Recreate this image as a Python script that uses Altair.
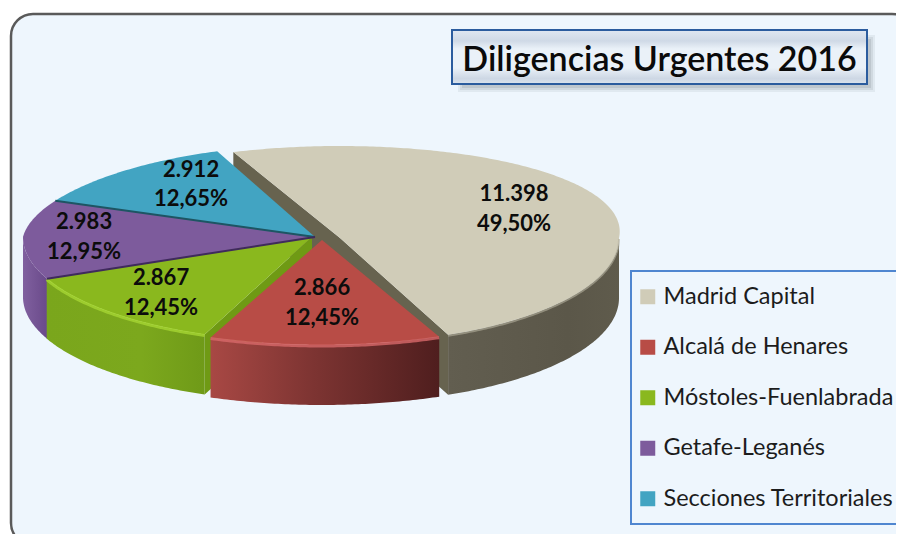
import math
import altair as alt
import pandas as pd

# ---------- data ----------
names = ["Madrid Capital", "Alcalá de Henares", "Móstoles-Fuenlabrada", "Getafe-Leganés", "Secciones Territoriales"]
values = [11398, 2866, 2867, 2983, 2912]
value_labels = ["11.398", "2.866", "2.867", "2.983", "2.912"]
pct_labels = ["49,50%", "12,45%", "12,45%", "12,95%", "12,65%"]
top_colors = ["#d0ccb8", "#b84c46", "#8ab81e", "#7d5b9c", "#42a4c2"]

# ---------- layout (page pixels minus the 8px margin) ----------
M = 8
W, H = 888, 526
DEPTH = 60
RY_BACK, RY_FRONT = 92, 105
# cx, cy, rx, back-shrink per slice
geom = [(340, 238, 279, -20), (322, 240, 300, 0), (312, 237, 289, 0), (315, 237, 292, 24), (315, 237, 292, 24)]
starts = [-111.0, 67.0, 67.0 + 44.8, 67.0 + 89.6, 67.0 + 136.2]
label_pos = [(514, 194, 224), (322, 288, 318), (161, 278, 308), (84, 222, 252), (191, 170, 199)]

total = sum(values)
spans = [v / total * 360 for v in values]


def pt(i, deg, shift=0.0):
    cx, cy, rx, shrink = geom[i]
    t = math.radians(deg)
    s, c = math.sin(t), math.cos(t)
    ry = RY_FRONT if s >= 0 else RY_BACK
    r = rx - (shrink * abs(s) if s < 0 else 0)
    return [cx + r * c - M, cy + ry * s - M + shift]


def apex(i, shift=0.0):
    cx, cy, _, _ = geom[i]
    return [cx - M, cy - M + shift]


def arc(i, a, b, shift=0.0):
    n = max(2, int(abs(b - a) * 1.5))
    return [pt(i, a + (b - a) * k / n, shift) for k in range(n + 1)]


def poly(name, ring):
    return {"type": "Feature", "properties": {"name": name},
            "geometry": {"type": "Polygon", "coordinates": [ring + [ring[0]]]}}


def line(name, coords):
    return {"type": "Feature", "properties": {"name": name},
            "geometry": {"type": "LineString", "coordinates": coords}}


def geo(features):
    return alt.InlineData(values={"type": "FeatureCollection", "features": features},
                          format=alt.DataFormat(property="features", type="json"))


def project(ch):
    return ch.project(type="identity", scale=1, translate=[0, 0])


def grad(stops, x2=1, y2=0):
    return {"gradient": "linear", "x1": 0, "y1": 0, "x2": x2, "y2": y2,
            "stops": [{"offset": o, "color": c} for o, c in stops]}


def rect(x0, y0, x1, y1, **kw):
    return alt.Chart(pd.DataFrame({"a": [0]})).mark_rect(**kw).encode(
        x=alt.value(x0 - M), x2=alt.value(x1 - M), y=alt.value(y0 - M), y2=alt.value(y1 - M))


layers = []

# panel
layers.append(rect(11, 14, 914, 545, fill="#eef6fd", stroke="#5a5a5a", strokeWidth=2.5, cornerRadius=22))

# title box
for inset, op in [(0, 0.10), (2, 0.14), (4, 0.18)]:
    layers.append(rect(452 + 6 + inset, 29 + 6 + inset, 867 + 8 - inset, 84 + 8 - inset, fill="#6f7680", opacity=op))
layers.append(rect(452, 30, 867, 84,
                   fill=grad([(0, "#dfe7f1"), (0.2, "#cfd9e6"), (0.35, "#eaf1f8"), (0.7, "#eaf1f8"), (0.9, "#cdd7e4"), (1, "#dbe4ee")], x2=0, y2=1),
                   stroke="#2b5c9e", strokeWidth=2))
layers.append(alt.Chart(pd.DataFrame({"t": ["Diligencias Urgentes 2016"]})).mark_text(
    font="Lato", fontSize=34, fontWeight=600, color="#0a0a0a", align="center", baseline="middle"
).encode(text="t:N", x=alt.value(659.5 - M), y=alt.value(61 - M)))

# legend frame
layers.append(rect(631, 271, 914, 524, fill="#eef6fd", stroke="#4f86d0", strokeWidth=2))

# rims and cut faces, back to front
rim_fills = {
    3: grad([(0, "#80609f"), (1, "#6a4a8a")]),
    2: grad([(0, "#7aa61c"), (0.6, "#7ca81d"), (1, "#6f9a18")]),
    1: grad([(0, "#a84844"), (0.45, "#7d3432"), (1, "#4f1e1e")]),
    0: grad([(0, "#625e50"), (0.7, "#5b5749"), (1, "#5f5b4c")]),
}


def rim(i):
    a = starts[i]
    b = starts[i] + spans[i]
    lo, hi = max(a, 0), min(b, 180)
    ring = arc(i, lo, hi) + arc(i, hi, lo, DEPTH)
    return project(alt.Chart(geo([poly(names[i], ring)])).mark_geoshape(fill=rim_fills[i]))


e0 = starts[0] + spans[0]
face = [pt(0, starts[0]), apex(0), pt(0, e0), pt(0, e0, DEPTH), apex(0, DEPTH), pt(0, starts[0], DEPTH)]
gface = [apex(2), pt(2, starts[2]), pt(2, starts[2], DEPTH), apex(2, DEPTH)]
layers.append(rim(0))
layers.append(project(alt.Chart(geo([poly("cut", face)])).mark_geoshape(fill="#67634f")))
layers.append(rim(3))
layers.append(project(alt.Chart(geo([poly("cutg", gface)])).mark_geoshape(fill="#6f9a14")))
layers.append(rim(2))
layers.append(rim(1))

# tops (drive the legend)
tops = []
for i in [0, 4, 3, 2, 1]:
    a = starts[i]
    tops.append(poly(names[i], [apex(i)] + arc(i, a, a + spans[i])))
layers.append(project(alt.Chart(geo(tops)).mark_geoshape(strokeWidth=0).encode(
    color=alt.Color("properties.name:N",
                    scale=alt.Scale(domain=names, range=top_colors),
                    sort=names,
                    legend=alt.Legend(
                        title=None, orient="none", legendX=624 - M, legendY=273 - M,
                        direction="vertical",
                        padding=12, symbolType="square", symbolSize=225, symbolStrokeWidth=0,
                        labelFont="Lato", labelFontSize=23.5, labelColor="#1c1c1c",
                        labelOffset=4, rowPadding=25.5, labelLimit=400, labelBaseline="middle"))
)))

# bevels and separators
for i, col, w, op in [(2, "#a6d633", 3, 0.8), (1, "#d8696a", 3, 0.8), (0, "#b5b19e", 2, 0.6)]:
    a = starts[i]
    b = a + spans[i]
    lo, hi = max(a, 0), min(b, 180)
    layers.append(project(alt.Chart(geo([line("bevel", arc(i, lo, hi, 1))])).mark_geoshape(
        filled=False, stroke=col, strokeWidth=w, opacity=op)))
layers.append(project(alt.Chart(geo([line("sep", [apex(4), pt(4, starts[4])])])).mark_geoshape(
    filled=False, stroke="#1d5563", strokeWidth=2)))
layers.append(project(alt.Chart(geo([line("sep", [apex(3), pt(3, starts[3])])])).mark_geoshape(
    filled=False, stroke="#3f2a5c", strokeWidth=2)))

# data labels
rows = []
for i in range(5):
    x, y1, y2 = label_pos[i]
    rows.append({"t": value_labels[i], "x": x - M, "y": y1 - M})
    rows.append({"t": pct_labels[i], "x": x - M, "y": y2 - M})
layers.append(alt.Chart(pd.DataFrame(rows)).mark_text(
    font="Lato", fontSize=22, fontWeight="bold", color="#0c0c0c", align="center", baseline="middle"
).encode(text="t:N",
         x=alt.X("x:Q", scale=None, axis=None),
         y=alt.Y("y:Q", scale=None, axis=None)))

chart = alt.layer(*layers).properties(
    width=W, height=H, padding=0, autosize=alt.AutoSizeParams(type="none"),
    background="white"
).configure_view(stroke=None)

chart.save("out.html", embed_options={"renderer": "svg", "actions": False})
